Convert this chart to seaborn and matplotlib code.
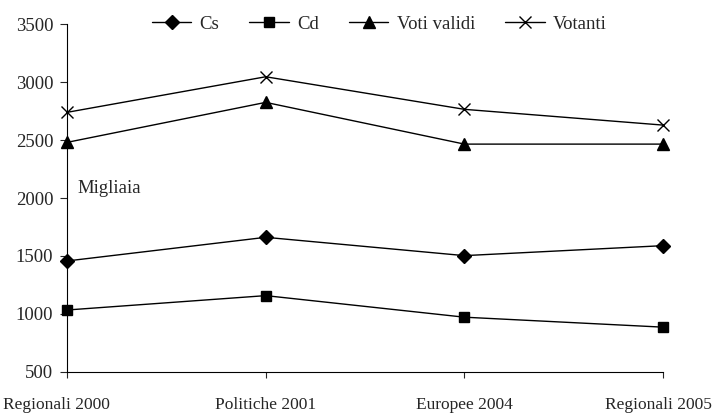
import pandas as pd
import seaborn as sns
from matplotlib import pyplot as plt
from matplotlib.transforms import ScaledTranslation

categories = ['Regionali 2000', 'Politiche 2001', 'Europee 2004', 'Regionali 2005']
cs = [1457, 1661, 1503, 1589]
cd = [1034, 1158, 972, 886]
voti_validi = [2480, 2825, 2465, 2465]
votanti = [2739, 3046, 2765, 2629]

series = ['Cs', 'Cd', 'Voti validi', 'Votanti']
df = pd.DataFrame({'elezione': categories, 'Cs': cs, 'Cd': cd,
                   'Voti validi': voti_validi, 'Votanti': votanti})
df['pos'] = range(len(categories))

sns.set_style('white')
plt.rcParams['font.family'] = ['Liberation Serif', 'DejaVu Serif']
fs = 13.5

fig = plt.figure(figsize=(7.13, 4.16), dpi=100)
ax = fig.add_axes([0.094, 0.106, 0.836, 0.836])

# filled and line markers can't be mixed in one call, so one call per series
markers = {'Cs': 'D', 'Cd': 's', 'Voti validi': '^', 'Votanti': 'x'}
sizes = {'Cs': 7, 'Cd': 7.5, 'Voti validi': 8, 'Votanti': 9}
for s in series:
    sns.lineplot(data=df, x='pos', y=s, marker=markers[s], color='black',
                 markersize=sizes[s], linewidth=1.0, markeredgewidth=1.0,
                 markeredgecolor='black', markerfacecolor='black',
                 label=s, ax=ax, clip_on=False)

ax.set_xlim(0, 3)
ax.set_ylim(500, 3500)
ax.set_xticks(range(len(categories)))
ax.set_xticklabels(categories, fontsize=12.5)
ax.set_yticks(range(500, 3501, 500))
ax.tick_params(axis='y', labelsize=fs, direction='out', length=5, width=0.8, left=True, pad=5)
ax.tick_params(axis='x', direction='out', length=4, width=0.8, bottom=True, pad=14)
ax.set_xlabel('')
ax.set_ylabel('')
for side in ['top', 'right']:
    ax.spines[side].set_visible(False)
for side in ['left', 'bottom']:
    ax.spines[side].set_color('black')
    ax.spines[side].set_linewidth(0.8)

# outer category labels are pushed inward to stay inside the figure
xlabels = ax.get_xticklabels()
xlabels[0].set_transform(xlabels[0].get_transform() + ScaledTranslation(-0.11, 0, fig.dpi_scale_trans))
xlabels[-1].set_transform(xlabels[-1].get_transform() + ScaledTranslation(-0.05, 0, fig.dpi_scale_trans))

ax.text(0.055, 2080, 'Migliaia', fontsize=fs, va='center', ha='left')

ax.legend(loc='center', bbox_to_anchor=(0.524, 1.0), ncol=4, frameon=False,
          fontsize=fs, handlelength=2.1, columnspacing=1.6, handletextpad=0.45,
          borderaxespad=0)

plt.savefig('out.png', dpi=100)
